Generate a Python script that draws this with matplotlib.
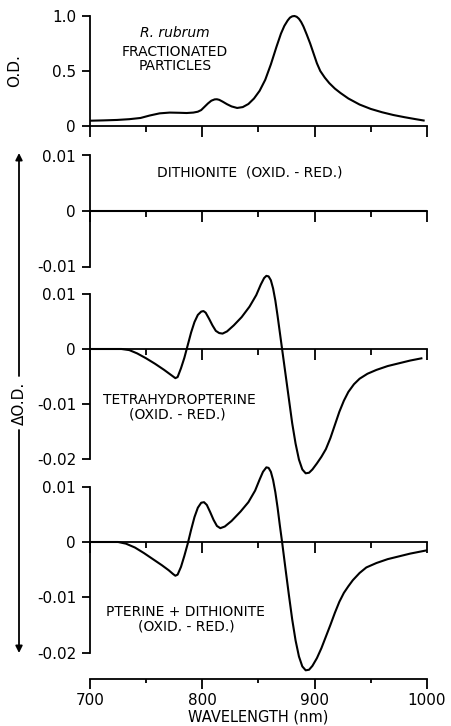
import numpy as np
import matplotlib
matplotlib.use('Agg')
import matplotlib.pyplot as plt

plt.rcParams['font.family'] = 'DejaVu Sans'

# top panel: absolute spectrum of the fractionated particles
od_wl = [700, 712, 724, 735, 745, 753, 762, 771, 780, 786, 792, 796, 799, 802, 805, 808, 811, 813, 815, 818,
         822, 826, 831, 836, 841, 846, 851, 856, 861, 866, 870, 873, 876, 878, 880, 882, 884, 886, 888, 890,
         893, 896, 899, 902, 905, 909, 913, 918, 923, 930, 940, 950, 960, 970, 980, 990, 997]
od_val = [0.048, 0.051, 0.055, 0.062, 0.073, 0.095, 0.115, 0.122, 0.12, 0.118, 0.122, 0.13, 0.145, 0.175, 0.205, 0.23, 0.242, 0.243, 0.238, 0.222,
          0.198, 0.178, 0.164, 0.172, 0.2, 0.25, 0.32, 0.42, 0.56, 0.72, 0.84, 0.91, 0.96, 0.985, 0.997, 1.0, 0.993, 0.975, 0.945, 0.905,
          0.83, 0.75, 0.66, 0.57, 0.5, 0.44, 0.39, 0.34, 0.3, 0.25, 0.195, 0.155, 0.125, 0.1, 0.08, 0.062, 0.05]

# dithionite oxid.-red. difference: flat
dith_wl = [700, 1000]
dith_val = [0.0, 0.0]

# tetrahydropterine oxid.-red.
thp_wl = [700, 728, 735, 742, 750, 758, 766, 772, 776, 778, 781, 784, 787, 790, 793, 796, 799, 801, 803, 806,
          809, 812, 815, 818, 822, 828, 835, 842, 848, 852, 855, 857, 859, 861, 863, 865, 867, 869, 871, 874,
          877, 880, 883, 886, 889, 892, 895, 898, 902, 906, 910, 914, 918, 922, 926, 930, 935, 940, 947, 955,
          965, 975, 985, 995]
thp_val = [0.0, 0.0, -0.0002, -0.0008, -0.0017, -0.0027, -0.0038, -0.0047, -0.0053, -0.0051, -0.0035, -0.0016, 0.0007, 0.003, 0.0049, 0.0062, 0.0068, 0.0069, 0.0066, 0.0055,
           0.0043, 0.0033, 0.0029, 0.0028, 0.0032, 0.0043, 0.0058, 0.0077, 0.0098, 0.0117, 0.0129, 0.0133, 0.0132, 0.0125, 0.011, 0.0088, 0.006, 0.003, 0.0, -0.0045,
           -0.009, -0.0135, -0.0172, -0.0201, -0.0219, -0.0226, -0.0225, -0.0219, -0.0208, -0.0196, -0.0182, -0.0162, -0.0138, -0.0114, -0.0094, -0.0078, -0.0064, -0.0054, -0.0045, -0.0038,
           -0.0031, -0.0026, -0.0021, -0.0017]

# pterine + dithionite oxid.-red.
ptd_wl = [700, 725, 732, 740, 748, 756, 764, 770, 774, 776, 778, 781, 784, 787, 790, 793, 796, 799, 801.5, 804,
          807, 810, 813, 816, 820, 826, 834, 841, 847, 851, 854, 857, 859, 861, 863, 865, 867, 869, 871, 874,
          877, 880, 883, 886, 889, 892, 895, 898, 902, 906, 910, 914, 918, 922, 926, 930, 934, 940, 946, 955,
          965, 975, 985, 1000]
ptd_val = [0.0, 0.0, -0.0003, -0.001, -0.002, -0.0031, -0.0042, -0.0051, -0.0058, -0.0061, -0.0059, -0.0045, -0.0025, -0.0003, 0.0022, 0.0045, 0.0062, 0.0071, 0.0072, 0.0067,
           0.0054, 0.004, 0.0029, 0.0025, 0.0028, 0.0038, 0.0055, 0.0072, 0.0093, 0.0113, 0.0127, 0.0135, 0.0134, 0.0127, 0.0112, 0.009, 0.0062, 0.003, 0.0, -0.0048,
           -0.0095, -0.014, -0.0178, -0.0207, -0.0225, -0.0232, -0.0231, -0.0224, -0.021, -0.0192, -0.0171, -0.015, -0.0128, -0.0108, -0.0092, -0.008, -0.0069, -0.0056, -0.0046, -0.0038,
           -0.0031, -0.0026, -0.0021, -0.0015]

x_ticks = [700, 800, 900, 1000]
x_minor = [750, 850, 950]
x_labels = ['700', '800', '900', '1000']
od_ticks = [0, 0.5, 1.0]
od_labels = ['0', '0.5', '1.0']
d_ticks = [-0.02, -0.01, 0, 0.01]
d_labels = ['-0.02', '-0.01', '0', '0.01']

W, H = 451, 726
LW = 1.3
FS = 10
fig = plt.figure(figsize=(W / 100, H / 100), dpi=100)


def add_panel(zero_px, px_per_unit, ylo, yhi, yticks, ylabels, ybounds):
    '''axes where the value 0 sits on pixel row zero_px (counted from the top)'''
    top = zero_px - yhi * px_per_unit
    bot = zero_px - ylo * px_per_unit
    ax = fig.add_axes([90 / W, 1 - bot / H, 337 / W, (bot - top) / H])
    ax.set_xlim(700, 1000)
    ax.set_ylim(ylo, yhi)
    ax.patch.set_visible(False)
    ax.spines['top'].set_visible(False)
    ax.spines['right'].set_visible(False)
    ax.spines['bottom'].set_position(('data', 0))
    ax.spines['left'].set_bounds(*ybounds)
    for s in ['left', 'bottom']:
        ax.spines[s].set_linewidth(LW)
    ax.set_xticks(x_ticks)
    ax.set_xticks(x_minor, minor=True)
    ax.tick_params(axis='x', which='major', direction='out', length=8, width=LW, labelbottom=False)
    ax.tick_params(axis='x', which='minor', direction='out', length=4, width=LW)
    ax.set_yticks(yticks)
    ax.set_yticklabels(ylabels)
    ax.tick_params(axis='y', direction='out', length=6, width=LW, labelsize=11, pad=4)
    return ax


ax1 = add_panel(126, 110, -0.08, 1.05, od_ticks, od_labels, (0, 1.0))
ax1.plot(od_wl, od_val, color='black', lw=1.5, solid_joinstyle='round')
ax1.text(775.7, 0.845, 'R. rubrum', ha='center', va='center', fontsize=FS, style='italic')
ax1.text(775.7, 0.673, 'FRACTIONATED', ha='center', va='center', fontsize=FS)
ax1.text(775.7, 0.545, 'PARTICLES', ha='center', va='center', fontsize=FS)

ax2 = add_panel(211, 5550, -0.0115, 0.0115, d_ticks[1:], d_labels[1:], (-0.01, 0.01))
ax2.plot(dith_wl, dith_val, color='black', lw=1.5)
ax2.text(842.4, 0.007, 'DITHIONITE  (OXID. - RED.)', ha='center', va='center', fontsize=FS)

ax3 = add_panel(349, 5500, -0.024, 0.015, d_ticks, d_labels, (-0.02, 0.01))
ax3.plot(thp_wl, thp_val, color='black', lw=1.5, solid_joinstyle='round')
ax3.text(780, -0.0093, 'TETRAHYDROPTERINE', ha='center', va='center', fontsize=FS)
ax3.text(778, -0.012, '(OXID. - RED.)', ha='center', va='center', fontsize=FS)

ax4 = add_panel(542, 5530, -0.02477, 0.015, d_ticks, d_labels, (-0.02, 0.01))
ax4.plot(ptd_wl, ptd_val, color='black', lw=1.5, solid_joinstyle='round')
ax4.text(784.6, -0.0126, 'PTERINE + DITHIONITE', ha='center', va='center', fontsize=FS)
ax4.text(786, -0.0153, '(OXID. - RED.)', ha='center', va='center', fontsize=FS)

# real wavelength axis under the last panel
sec = ax4.secondary_xaxis(0.0)
sec.spines['bottom'].set_linewidth(LW)
sec.set_xticks(x_ticks)
sec.set_xticklabels(x_labels)
sec.set_xticks(x_minor, minor=True)
sec.tick_params(axis='x', which='major', direction='out', length=7, width=LW, labelsize=11, pad=3)
sec.tick_params(axis='x', which='minor', direction='out', length=3, width=LW)
sec.set_xlabel('WAVELENGTH (nm)', fontsize=10.5, labelpad=1)

# y labels
fig.text(15 / W, 1 - 71 / H, 'O.D.', rotation=90, ha='center', va='center', fontsize=11)
fig.text(19 / W, 1 - 403 / H, 'ΔO.D.', rotation=90, ha='center', va='center', fontsize=11)
arrow = dict(arrowstyle='-|>', lw=LW, color='black', mutation_scale=10, shrinkA=0, shrinkB=0)
ax4.annotate('', xy=(19, H - 153), xytext=(19, H - 376), xycoords='figure pixels', textcoords='figure pixels', arrowprops=arrow)
ax4.annotate('', xy=(19, H - 653), xytext=(19, H - 430), xycoords='figure pixels', textcoords='figure pixels', arrowprops=arrow)

fig.savefig('out.png', dpi=100)
